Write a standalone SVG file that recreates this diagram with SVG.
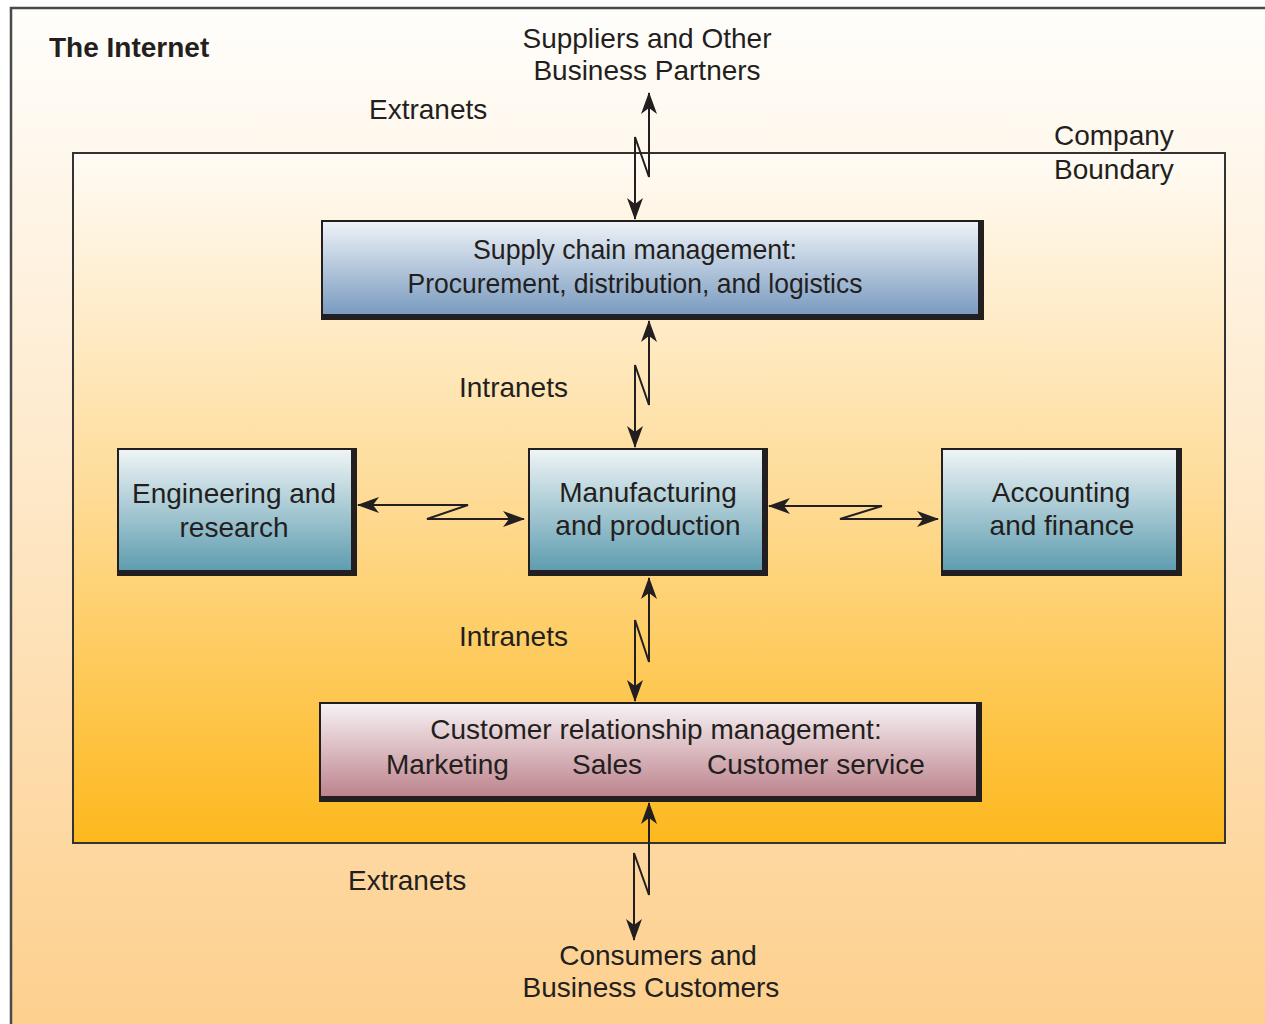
<svg xmlns="http://www.w3.org/2000/svg" width="1265" height="1024" viewBox="0 0 1265 1024">
  <defs>
    <linearGradient id="gOuter" x1="0" y1="0" x2="0" y2="1">
      <stop offset="0" stop-color="#fffefc"/>
      <stop offset="1" stop-color="#fdcf8c"/>
    </linearGradient>
    <linearGradient id="gCompany" x1="0" y1="0" x2="0" y2="1">
      <stop offset="0" stop-color="#fffbf5"/>
      <stop offset="0.5" stop-color="#fedb96"/>
      <stop offset="1" stop-color="#fdb81d"/>
    </linearGradient>
    <linearGradient id="gSupply" x1="0" y1="0" x2="0" y2="1">
      <stop offset="0" stop-color="#eef2f8"/>
      <stop offset="1" stop-color="#7a9bbf"/>
    </linearGradient>
    <linearGradient id="gTeal" x1="0" y1="0" x2="0" y2="1">
      <stop offset="0" stop-color="#eef4f6"/>
      <stop offset="1" stop-color="#5f9db0"/>
    </linearGradient>
    <linearGradient id="gRose" x1="0" y1="0" x2="0" y2="1">
      <stop offset="0" stop-color="#f7f1f3"/>
      <stop offset="1" stop-color="#bd848d"/>
    </linearGradient>
    <marker id="arr" viewBox="0 0 22 16" refX="21" refY="8" markerWidth="22" markerHeight="16" markerUnits="userSpaceOnUse" orient="auto-start-reverse">
      <path d="M0,0 L22,8 L0,16 L6,8 Z" fill="#231f20"/>
    </marker>
    <style>
      text { font-family: "Liberation Sans", Arial, sans-serif; font-size: 28px; fill: #231f20; }
      .c { text-anchor: middle; }
      .b { font-weight: bold; }
      .shadow { fill: #231f20; }
      .conn { fill: none; stroke: #231f20; stroke-width: 2; marker-start: url(#arr); marker-end: url(#arr); }
    </style>
  </defs>

  <rect x="0" y="0" width="1265" height="1024" fill="#ffffff"/>
  <g id="internet">
    <rect x="11" y="8" width="1270" height="1030" fill="url(#gOuter)" stroke="#4a4a4a" stroke-width="2.5"/>
    <text x="49" y="57" class="b">The Internet</text>
  </g>

  <g id="company-boundary">
    <rect x="73" y="153" width="1152" height="690" fill="url(#gCompany)" stroke="#333333" stroke-width="2"/>
    <text x="1054" y="145">Company</text>
    <text x="1054" y="179">Boundary</text>
  </g>

  <g id="suppliers">
    <text x="647" y="48" class="c">Suppliers and Other</text>
    <text x="647" y="80" class="c">Business Partners</text>
  </g>

  <g id="consumers">
    <text x="658" y="965" class="c">Consumers and</text>
    <text x="651" y="997" class="c">Business Customers</text>
  </g>

  <g id="supply-chain">
    <rect x="321" y="220" width="663" height="100" class="shadow"/>
    <rect x="323" y="222" width="655" height="92" fill="url(#gSupply)"/>
    <text x="635" y="259" class="c" textLength="324" lengthAdjust="spacingAndGlyphs">Supply chain management:</text>
    <text x="635" y="293" class="c" textLength="455" lengthAdjust="spacingAndGlyphs">Procurement, distribution, and logistics</text>
  </g>

  <g id="engineering">
    <rect x="117" y="448" width="240" height="128" class="shadow"/>
    <rect x="119" y="450" width="232" height="120" fill="url(#gTeal)"/>
    <text x="234" y="503" class="c">Engineering and</text>
    <text x="234" y="537" class="c">research</text>
  </g>

  <g id="manufacturing">
    <rect x="528" y="448" width="240" height="128" class="shadow"/>
    <rect x="530" y="450" width="232" height="120" fill="url(#gTeal)"/>
    <text x="648" y="502" class="c">Manufacturing</text>
    <text x="648" y="535" class="c">and production</text>
  </g>

  <g id="accounting">
    <rect x="941" y="448" width="241" height="128" class="shadow"/>
    <rect x="943" y="450" width="233" height="120" fill="url(#gTeal)"/>
    <text x="1061" y="502" class="c">Accounting</text>
    <text x="1062" y="535" class="c">and finance</text>
  </g>

  <g id="crm">
    <rect x="319" y="702" width="663" height="100" class="shadow"/>
    <rect x="321" y="704" width="655" height="92" fill="url(#gRose)"/>
    <text x="656" y="739" class="c">Customer relationship management:</text>
    <text x="386" y="774">Marketing</text>
    <text x="572" y="774">Sales</text>
    <text x="707" y="774">Customer service</text>
  </g>

  <g id="connectors">
    <path class="conn" d="M649,93 L649,177 L635,137 L635,219"/>
    <path class="conn" d="M649,321 L649,405 L635,365 L635,447"/>
    <path class="conn" d="M649,578 L649,662 L635,620 L635,701"/>
    <path class="conn" d="M649,803 L649,895 L634,853 L634,940"/>
    <path class="conn" d="M358,505 L468,505 L427,519 L524,519"/>
    <path class="conn" d="M769,506 L882,506 L840,519 L938,519"/>
    <text x="369" y="119">Extranets</text>
    <text x="459" y="397">Intranets</text>
    <text x="459" y="646">Intranets</text>
    <text x="348" y="890">Extranets</text>
  </g>
</svg>
